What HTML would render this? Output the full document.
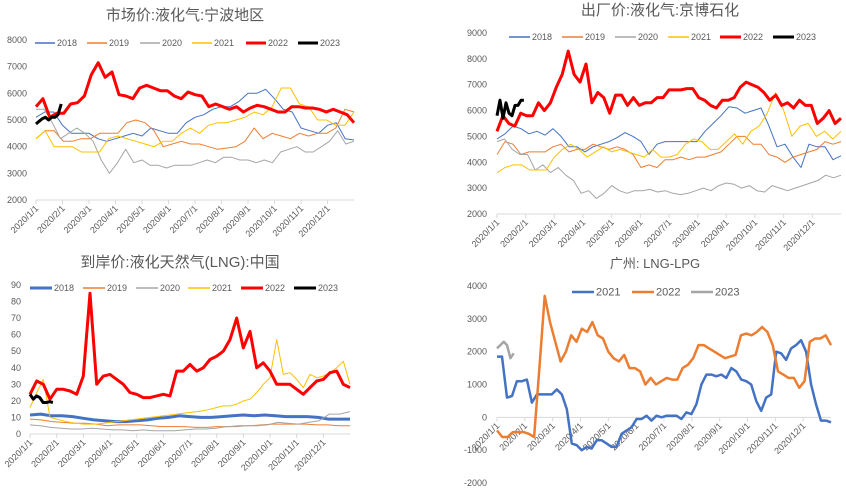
<!DOCTYPE html>
<html><head><meta charset="utf-8">
<style>
html,body{margin:0;padding:0;background:#fff;}
svg{display:block;font-family:"Liberation Sans","Noto Sans CJK SC",sans-serif;}
</style></head>
<body>
<svg id="root" width="846" height="488" viewBox="0 0 846 488">
<rect width="846" height="488" fill="#fff"/>
</svg>
<script>
const months = ["2020/1/1","2020/2/1","2020/3/1","2020/4/1","2020/5/1","2020/6/1","2020/7/1","2020/8/1","2020/9/1","2020/10/1","2020/11/1","2020/12/1"];
const p1Ticks = [2000,3000,4000,5000,6000,7000,8000];
const p2Ticks = [2000,3000,4000,5000,6000,7000,8000,9000];
const p3Ticks = [0,10,20,30,40,50,60,70,80,90];
const p4Ticks = [-2000,-1000,0,1000,2000,3000,4000];

const p1s2018 = [5100,5300,5300,4800,4500,4500,4500,4300,4200,4300,4400,4500,4400,4700,4600,4500,4500,4900,5100,5200,5400,5500,5500,5700,6000,6000,6150,5800,5400,5300,4700,4600,4500,4800,4900,4300,4250];
const p1s2019 = [4300,4600,4600,4200,4200,4300,4300,4500,4500,4500,4900,5000,4900,4600,4000,4100,4200,4100,4100,4000,3900,3950,4000,4200,4700,4300,4500,4400,4300,4500,4400,4500,4500,4700,5400,5300];
const p1s2020 = [5400,5400,4900,4300,4500,4700,4500,4200,3500,3000,3400,3900,3400,3500,3300,3300,3200,3300,3300,3300,3400,3500,3400,3600,3600,3500,3500,3400,3500,3400,3800,3900,4000,3800,3800,4000,4200,4600,4100,4200];
const p1s2021 = [4300,4600,4000,4000,4000,3800,3800,3800,4300,4400,4300,4200,4100,4000,4200,4200,4500,4700,4500,4800,4900,4900,5000,5100,5300,5200,5500,6200,6200,5600,5500,5000,5000,4800,4800,5300];
const p1s2022 = [5500,5800,5100,5250,5250,5600,5650,5900,6700,7150,6600,6800,5950,5900,5800,6200,6300,6200,6100,6100,5900,5800,6050,5950,5900,5500,5600,5500,5400,5500,5300,5450,5550,5500,5400,5300,5300,5500,5500,5450,5450,5400,5300,5400,5300,5200,4900];
const p1s2023 = [4850,4950,5050,5100,5000,5100,5100,5200,5600];

const p2s2018 = [4900,5100,5400,5300,5100,5200,5050,5300,5000,4600,4600,4400,4600,4700,4800,4950,5150,5000,4800,4300,4700,4800,4800,4800,4800,4800,5200,5500,5800,6150,6100,5900,6000,6100,5400,4600,4700,4200,3800,4700,4600,4600,4100,4250];
const p2s2019 = [4300,4800,4700,4300,4400,4400,4400,4600,4700,4400,4500,4500,4700,4600,4500,4600,4500,4300,3800,3900,3800,4100,4100,4200,4100,4200,4200,4300,4400,4700,5000,5000,4700,4700,4300,4200,4000,4200,4300,4400,4500,4800,4700,4800];
const p2s2020 = [4800,4900,4500,4300,4300,3700,3900,3600,3800,3500,3300,2800,2900,2600,2800,3100,2900,2800,2900,2900,2950,2850,2900,2800,2750,2800,2900,3000,2900,3100,3200,3150,3000,3100,2900,2850,3100,3000,2900,3000,3100,3200,3300,3500,3400,3500];
const p2s2021 = [3600,3800,3900,3900,3700,3700,3700,4200,4500,4700,4500,4200,4400,4600,4400,4500,4400,4300,4200,4500,4200,4200,4300,4700,4900,4800,4500,4500,4800,5100,4700,5200,5400,5900,6700,6000,5000,5400,5500,5000,5200,4900,5200];
const p2s2022 = [5200,5800,5500,5400,5900,5800,5800,6300,6000,6300,6900,7400,8300,7400,7100,7800,6300,6700,6500,5900,6600,6600,6200,6500,6200,6300,6300,6500,6500,6800,6800,6800,6850,6850,6500,6400,6200,6100,6400,6400,6500,6900,7100,7000,6900,6700,6400,6600,6200,6300,6100,6400,6200,6200,5500,5700,6000,5500,5700];
const p2s2023 = [5800,6400,5700,6300,5900,5800,6200,6200,6400,6400];

const p3s2018 = [11.5,12,11,11,10.5,9.5,8.5,8,7.5,7.5,8,8.5,9.5,10,11,10.5,10,10,10.5,11,11.5,11,11.5,11,10.5,10.5,10.5,10,9,9,9];
const p3s2019 = [9,8.5,7.5,7,6.5,6.5,6,5,5.5,5.5,5.5,5,4.5,4.5,4.5,4,4,4.5,4.5,5,5,5.5,6,6,6,6,5.5,5.5,5,5];
const p3s2020 = [5.5,5,4,3.5,3,3,3.5,3,2.5,2.5,2,2.5,2,2,2,2.5,3,3,3.5,4.5,4.5,5,5,5.5,7,6.5,6,7,8,12,12,13.5];
const p3s2021 = [16,25,33,10,9,8,7,6.5,6,6,6,6.5,7,7.5,8,8.5,9,9.5,10,10.5,11,11.5,12,12.5,13,13.5,14,15,16,17,17,18,20,21,25,30,34,57,36,37,33,28,36,34,35,37,40,44,30];
const p3s2022 = [24,32,30,21,27,27,26,24,35,85,30,35,36,33,30,25,24,22,22,23,24,23,38,38,42,38,40,45,47,50,57,70,52,62,40,43,38,30,30,30,27,24,28,32,33,37,38,30,28];
const p3s2023 = [24,21,23,22,19,19,19.5,19];

const p4s2021 = [1850,1850,600,650,1100,1100,1150,450,700,700,700,700,850,700,250,-800,-850,-1000,-900,-950,-700,-700,-800,-900,-900,-500,-400,-300,-50,-50,50,-100,50,0,50,50,50,-50,150,100,400,1000,1300,1300,1250,1300,1200,1500,1400,1150,1100,1000,500,200,600,700,2000,1950,1750,2100,2200,2350,2000,1000,400,-100,-100,-150];
const p4s2022 = [-400,-600,-600,-450,-450,-450,-500,-600,1500,3700,2900,2300,1700,2000,2500,2300,2700,2600,2900,2500,2400,2000,1800,1700,1900,1500,1500,1400,1000,1200,1000,1100,1200,1150,1150,1500,1600,1800,2200,2200,2100,2000,1900,1800,1850,1900,2500,2550,2500,2600,2750,2600,2200,1400,1300,1200,1200,900,1100,2300,2400,2400,2500,2200];
const p4s2023 = [2100,2200,2300,2200,1800,1950];

const NS = "http://www.w3.org/2000/svg";
const root = document.getElementById('root');
function mk(tag, attrs, parent){const e=document.createElementNS(NS,tag);for(const k in attrs)e.setAttribute(k,attrs[k]);(parent||root).appendChild(e);return e;}

function panel(cfg){
  const g = mk('g',{});
  
  
  const xS = m => cfg.x0 + (cfg.x1 - cfg.x0) * m / 12;
  const yS = v => cfg.yTop + (cfg.yBot - cfg.yTop) * (cfg.vMax - v) / (cfg.vMax - cfg.vMin);
  const t = mk('text',{x:cfg.tx,y:cfg.ty,'text-anchor':'middle','font-size':cfg.tfs||15,fill:'#595959'},g);
  t.textContent = cfg.title;
  
  
  cfg.ticks.forEach(v=>{
    const tl = mk('text',{x:cfg.yLabX,y:yS(v)+3,'text-anchor':'end','font-size':9,fill:'#595959'},g);
    tl.textContent = v;
    
    
  });
  const ay = yS(cfg.axisV);
  const ax = mk('line',{x1:cfg.x0,y1:ay,x2:cfg.x1,y2:ay,stroke:'#d9d9d9','stroke-width':1},g);
  
  
  months.forEach((m,i)=>{
    const x = xS(i);
    const tk = mk('line',{x1:x,y1:ay,x2:x,y2:ay+4,stroke:'#d9d9d9'},g);
    
    
    const tl = mk('text',{x:x+3,y:ay+9,'text-anchor':'end','font-size':9,fill:'#595959',transform:`rotate(-45 ${x+3} ${ay+9})`},g);
    tl.textContent = m;
    
    
  });
  cfg.series.forEach(s=>{
    const n = s.data.length;
    const span = s.span || 12;
    const pts = s.data.map((v,i)=>`${xS(span*i/(n-1)).toFixed(1)},${yS(v).toFixed(1)}`).join(' ');
    const pl = mk('polyline',{points:pts,fill:'none',stroke:s.color,'stroke-width':s.w,'stroke-linejoin':'round'},g);
    
    
    const ll = mk('line',{x1:s.lx,y1:cfg.legY,x2:s.lx+cfg.legLen,y2:cfg.legY,stroke:s.color,'stroke-width':Math.max(s.w,1.5)},g);
    
    
    const lt = mk('text',{x:s.lx+cfg.legLen+2,y:cfg.legY+(cfg.legFs/3),'font-size':cfg.legFs,fill:'#595959'},g);
    lt.textContent = s.label;
    
    
  });
}

const C18='#4472C4',C19='#ED7D31',C20='#A5A5A5',C21='#FFC000',C22='#FF0000',C23='#000000';
panel({name:'ningbo-market-price-chart',title:'市场价:液化气:宁波地区',tx:185,ty:20,x0:36,x1:354,yTop:40,yBot:200,vMin:2000,vMax:8000,axisV:2000,ticks:p1Ticks,yLabX:27,legY:43,legLen:20,legFs:9,
 series:[{label:'2018',data:p1s2018,color:C18,w:1,lx:35},{label:'2019',data:p1s2019,color:C19,w:1,lx:87},{label:'2020',data:p1s2020,color:C20,w:1,lx:140},{label:'2021',data:p1s2021,color:C21,w:1,lx:192},{label:'2022',data:p1s2022,color:C22,w:3,lx:246},{label:'2023',data:p1s2023,color:C23,w:3,lx:298,span:0.95}]});
panel({name:'jingbo-factory-price-chart',title:'出厂价:液化气:京博石化',tx:660,ty:15,x0:497,x1:841,yTop:33,yBot:214,vMin:2000,vMax:9000,axisV:2000,ticks:p2Ticks,yLabX:487,legY:37,legLen:21,legFs:9,
 series:[{label:'2018',data:p2s2018,color:C18,w:1,lx:509},{label:'2019',data:p2s2019,color:C19,w:1,lx:562},{label:'2020',data:p2s2020,color:C20,w:1,lx:615},{label:'2021',data:p2s2021,color:C21,w:1,lx:668},{label:'2022',data:p2s2022,color:C22,w:3,lx:720},{label:'2023',data:p2s2023,color:C23,w:3,lx:773,span:0.94}]});
panel({name:'lng-landed-price-chart',title:'到岸价:液化天然气(LNG):中国',tx:180,ty:267,x0:30,x1:350,yTop:285,yBot:434,vMin:0,vMax:90,axisV:0,ticks:p3Ticks,yLabX:21,legY:288,legLen:22,legFs:9,
 series:[{label:'2018',data:p3s2018,color:C18,w:3,lx:30},{label:'2019',data:p3s2019,color:C19,w:1,lx:83},{label:'2020',data:p3s2020,color:C20,w:1,lx:136},{label:'2021',data:p3s2021,color:C21,w:1,lx:188},{label:'2022',data:p3s2022,color:C22,w:3,lx:241},{label:'2023',data:p3s2023,color:C23,w:3,lx:294,span:0.86}]});
panel({name:'guangzhou-lng-lpg-spread-chart',title:'广州: LNG-LPG',tx:655,ty:268,tfs:13,x0:497,x1:831,yTop:286,yBot:483,vMin:-2000,vMax:4000,axisV:0,ticks:p4Ticks,yLabX:487,legY:292,legLen:22,legFs:11,
 series:[{label:'2021',data:p4s2021,color:'#4472C4',w:2.5,lx:572},{label:'2022',data:p4s2022,color:'#ED7D31',w:2.5,lx:632},{label:'2023',data:p4s2023,color:'#A5A5A5',w:2.5,lx:691,span:0.6}]});
</script>
</body></html>
